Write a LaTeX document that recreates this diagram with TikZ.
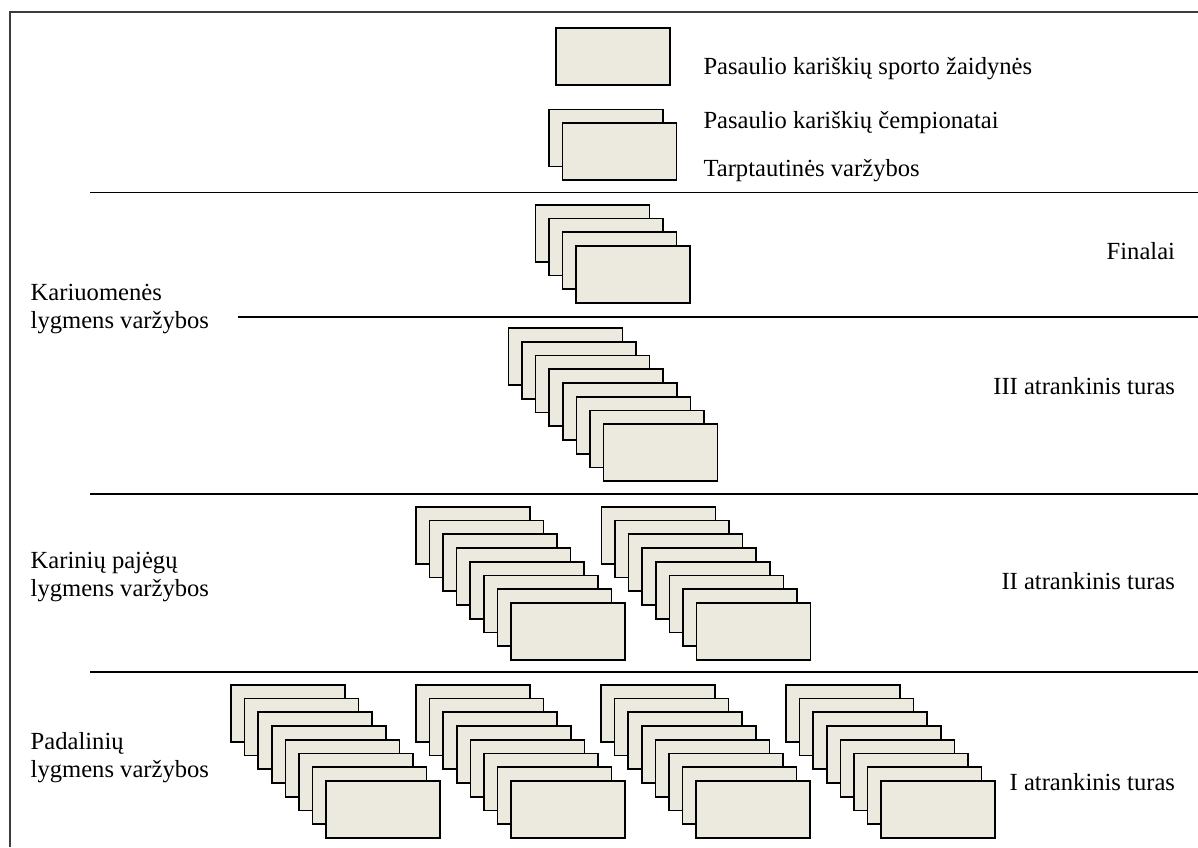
\documentclass[tikz,border=0pt]{standalone}
\usepackage{fontspec}
\setmainfont{Liberation Serif}
\definecolor{cardfill}{RGB}{236,233,223}
\definecolor{framegray}{RGB}{60,60,60}
\newcommand\cardstack[4]{%
  \foreach \i in {1,...,#4}{%
    \node[card] (#1-\i) at ({#2+(\i-1)*13.6},{#3+(\i-1)*13.75}) {};%
  }%
}
\begin{document}
\begin{tikzpicture}[x=1pt,y=-1pt,
  card/.style={draw=black, line width=1.6pt, fill=cardfill, minimum width=114pt, minimum height=57pt, inner sep=0pt, outer sep=0pt, anchor=north west},
  lbl/.style={font=\fontsize{24.6}{28}\selectfont, inner sep=0pt, outer sep=0pt},
  rule/.style={line width=1.9pt, draw=black},
  framel/.style={line width=1.6pt, draw=framegray}]
\useasboundingbox (0,0) rectangle (1198,847);
\fill[white] (0,0) rectangle (1198,847);
% frame
\coordinate (fbl) at (10,847);
\coordinate (ftl) at (10,12);
\coordinate (ftr) at (1198,12);
\draw[framel] (fbl) -- (ftl) -- (ftr);
% separating rules
\coordinate (r1s) at (90,192.5);   \coordinate (r1e) at (1198,192.5);
\coordinate (r2s) at (238,316.8);  \coordinate (r2e) at (1198,316.8);
\coordinate (r3s) at (90,494);     \coordinate (r3e) at (1198,494);
\coordinate (r4s) at (90,671.7);   \coordinate (r4e) at (1198,671.7);
\draw[rule] (r1s) -- (r1e);
\draw[rule] (r2s) -- (r2e);
\draw[rule] (r3s) -- (r3e);
\draw[rule] (r4s) -- (r4e);
% cards
\node[card] (top) at (555.7,28) {};
\cardstack{pair}{549}{109.3}{2}
\cardstack{fin}{535.3}{204.7}{4}
\cardstack{rIII}{508.3}{328}{8}
\cardstack{rIIa}{415.7}{506.7}{8}
\cardstack{rIIb}{601.3}{506.7}{8}
\cardstack{rIa}{231}{684.7}{8}
\cardstack{rIb}{416}{684.7}{8}
\cardstack{rIc}{601}{684.7}{8}
\cardstack{rId}{786}{684.7}{8}
% top legend texts
\node[lbl, anchor=base west] (t1) at (703.5,74.3) {Pasaulio kariškių sporto žaidynės};
\node[lbl, anchor=base west] (t2) at (703.5,128.3) {Pasaulio kariškių čempionatai};
\node[lbl, anchor=base west] (t3) at (703.5,176.7) {Tarptautinės varžybos};
% right labels
\node[lbl, anchor=base east] (fin-l) at (1175,259) {Finalai};
\node[lbl, anchor=base east] (rIII-l) at (1175,394) {III atrankinis turas};
\node[lbl, anchor=base east] (rII-l) at (1175,589) {II atrankinis turas};
\node[lbl, anchor=base east] (rI-l) at (1175,790) {I atrankinis turas};
% left labels
\node[lbl, anchor=base west] (k1) at (30.7,300.7) {Kariuomenės};
\node[lbl, anchor=base west] (k2) at (30.7,328.7) {lygmens varžybos};
\node[lbl, anchor=base west] (p1) at (30.7,568) {Karinių pajėgų};
\node[lbl, anchor=base west] (p2) at (30.7,596) {lygmens varžybos};
\node[lbl, anchor=base west] (d1) at (30.7,749) {Padalinių};
\node[lbl, anchor=base west] (d2) at (30.7,777) {lygmens varžybos};
\end{tikzpicture}
\end{document}
